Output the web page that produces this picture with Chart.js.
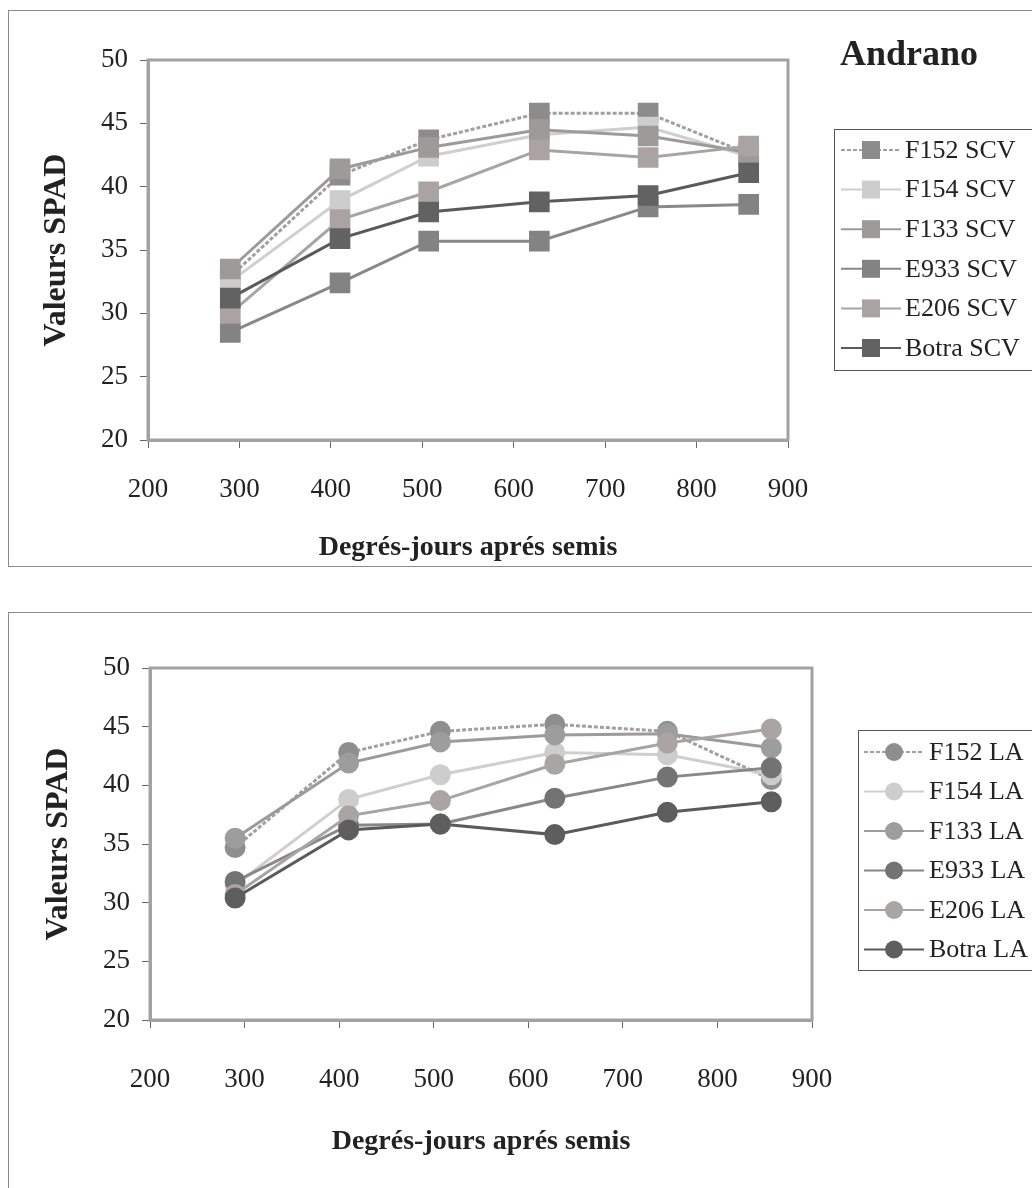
<!DOCTYPE html>
<html>
<head>
<meta charset="utf-8">
<script src="https://cdn.jsdelivr.net/npm/chart.js@4.4.0/dist/chart.umd.min.js"></script>
<style>
    body { margin: 0; background: #fff; width: 1032px; height: 1188px; overflow: hidden; position: relative; }
    .frame { position: absolute; border: 1px solid #8a8a8a; border-right: none; }
    canvas { position: absolute; left: 0; }
</style>
</head>
<body>
<div class="frame" style="left:8px; top:10px; width:1030px; height:555px;"></div>
<div class="frame" style="left:8px; top:612px; width:1030px; height:600px;"></div>
<canvas id="chartScv" width="1032" height="600" style="top:0"></canvas>
<canvas id="chartLa" width="1032" height="588" style="top:600px"></canvas>
<script>
// degres-jours apres semis
const degreeDays = [290, 410, 507, 628, 747, 857]

const scvLabels = ['F152 SCV', 'F154 SCV', 'F133 SCV', 'E933 SCV', 'E206 SCV', 'Botra SCV']
const f152Scv = [32.9, 40.9, 43.7, 45.8, 45.8, 42.6]
const f154Scv = [32.5, 38.9, 42.4, 44.1, 44.7, 42.4]
const f133Scv = [33.5, 41.4, 43.1, 44.5, 44.0, 42.7]
const e933Scv = [28.5, 32.4, 35.7, 35.7, 38.4, 38.6]
const e206Scv = [30.0, 37.4, 39.6, 42.9, 42.3, 43.2]
const botraScv = [31.2, 35.9, 38.0, 38.8, 39.3, 41.1]

const laLabels = ['F152 LA', 'F154 LA', 'F133 LA', 'E933 LA', 'E206 LA', 'Botra LA']
const f152La = [34.7, 42.8, 44.6, 45.2, 44.6, 40.5]
const f154La = [31.5, 38.8, 40.9, 42.8, 42.6, 40.9]
const f133La = [35.5, 41.9, 43.7, 44.3, 44.4, 43.2]
const e933La = [31.8, 36.6, 36.7, 38.9, 40.7, 41.5]
const e206La = [30.7, 37.4, 38.7, 41.8, 43.6, 44.8]
const botraLa = [30.4, 36.2, 36.7, 35.8, 37.7, 38.6]

const yTicks = [20, 25, 30, 35, 40, 45, 50]
const xTicks = [200, 300, 400, 500, 600, 700, 800, 900]

const scvColors = ['#8c8c8c', '#cdcdcd', '#9d9a99', '#838383', '#aba3a3', '#626262']
const laColors = ['#8e8e8e', '#cdcdcd', '#9d9d9d', '#737373', '#aaa4a4', '#5e5e5e']
const lineColors = ['#a0a0a0', '#cfcfcf', '#9d9a99', '#888888', '#aba3a3', '#5a5a5a']

const serif = "'Liberation Serif', 'Times New Roman', serif"

function makeDatasets(labels, series, colors, pointStyle, radius) {
    return series.map((values, i) => ({
        label: labels[i],
        data: values.map((v, j) => ({x: degreeDays[j], y: v})),
        borderColor: lineColors[i],
        backgroundColor: colors[i],
        pointBackgroundColor: colors[i],
        pointBorderColor: colors[i],
        borderWidth: 3,
        borderDash: i === 0 ? [4, 2] : [],
        pointStyle: pointStyle,
        pointRadius: radius,
        pointHoverRadius: radius,
        order: 10 - i,
    }))
}

// plot frame + legend box, drawn by hand like the Excel original
const framePlugin = {
    id: 'frameAndLegend',
    beforeDatasetsDraw(chart) {
        const {ctx, chartArea: {top, bottom, left, right}} = chart
        ctx.save()
        ctx.strokeStyle = '#a2a2a2'
        ctx.lineWidth = 3
        ctx.strokeRect(left, top, right - left, bottom - top)
        ctx.restore()
    },
    afterDraw(chart, args, opts) {
        const ctx = chart.ctx
        ctx.save()
        ctx.strokeStyle = '#555'
        ctx.lineWidth = 1
        ctx.strokeRect(opts.boxLeft + 0.5, opts.boxTop + 0.5, 400, opts.boxHeight)
        ctx.font = '26px ' + serif
        ctx.textBaseline = 'middle'
        chart.data.datasets.forEach((ds, i) => {
            const y = opts.firstY + i * opts.step
            ctx.strokeStyle = ds.borderColor
            ctx.lineWidth = 2
            ctx.setLineDash(ds.borderDash)
            ctx.beginPath()
            ctx.moveTo(opts.lineLeft, y)
            ctx.lineTo(opts.lineLeft + 60, y)
            ctx.stroke()
            ctx.setLineDash([])
            ctx.fillStyle = ds.pointBackgroundColor
            const cx = opts.lineLeft + 30
            if (ds.pointStyle === 'rect') {
                ctx.fillRect(cx - 9, y - 9, 18, 18)
            } else {
                ctx.beginPath()
                ctx.arc(cx, y, 9, 0, Math.PI * 2)
                ctx.fill()
            }
            ctx.fillStyle = '#222'
            ctx.fillText(ds.label, opts.textLeft, y + 1)
        })
        if (opts.title) {
            ctx.font = 'bold 36px ' + serif
            ctx.fillStyle = '#222'
            ctx.fillText(opts.title, 840, 56)
        }
        ctx.restore()
    }
}

function makeConfig(datasets, padding, xHeight, legendOpts, labelPad) {
    return {
        type: 'line',
        data: {datasets: datasets},
        options: {
            responsive: false,
            animation: false,
            layout: {padding: padding},
            scales: {
                x: {
                    type: 'linear',
                    min: 200,
                    max: 900,
                    afterBuildTicks: (scale) => { scale.ticks = xTicks.map(v => ({value: v})) },
                    afterFit: (scale) => { scale.height = xHeight },
                    border: {display: true, color: '#a2a2a2', width: 3},
                    grid: {drawOnChartArea: false, drawTicks: true, tickLength: 8, color: '#666'},
                    ticks: {color: '#222', padding: labelPad, font: {size: 27, family: serif}},
                    title: {
                        display: true,
                        text: 'Degrés-jours aprés semis',
                        color: '#222',
                        padding: 0,
                        font: {size: 28, weight: 'bold', family: serif}
                    }
                },
                y: {
                    min: 20,
                    max: 50,
                    afterBuildTicks: (scale) => { scale.ticks = yTicks.map(v => ({value: v})) },
                    afterFit: (scale) => { scale.width = 110 },
                    border: {display: true, color: '#a2a2a2', width: 3},
                    grid: {drawOnChartArea: false, drawTicks: true, tickLength: 8, color: '#666'},
                    ticks: {color: '#222', padding: 12, font: {size: 27, family: serif}},
                    title: {
                        display: true,
                        text: 'Valeurs SPAD',
                        color: '#222',
                        padding: 0,
                        font: {size: 32, weight: 'bold', family: serif}
                    }
                }
            },
            plugins: {
                legend: {display: false},
                tooltip: {enabled: false},
                frameAndLegend: legendOpts
            }
        },
        plugins: [framePlugin]
    }
}

new Chart(document.getElementById('chartScv'), makeConfig(
    makeDatasets(scvLabels, [f152Scv, f154Scv, f133Scv, e933Scv, e206Scv, botraScv], scvColors, 'rect', 12.5),
    {left: 38, right: 244, top: 60, bottom: 35},
    125,
    {boxLeft: 834, boxTop: 129, boxHeight: 241, firstY: 150, step: 39.6, lineLeft: 841, textLeft: 905, title: 'Andrano'},
    26
))

new Chart(document.getElementById('chartLa'), makeConfig(
    makeDatasets(laLabels, [f152La, f154La, f133La, e933La, e206La, botraLa], laColors, 'circle', 9),
    {left: 40, right: 220, top: 68, bottom: 29},
    139,
    {boxLeft: 858, boxTop: 130, boxHeight: 240, firstY: 152, step: 39.5, lineLeft: 864, textLeft: 929},
    36
))
</script>
</body>
</html>
